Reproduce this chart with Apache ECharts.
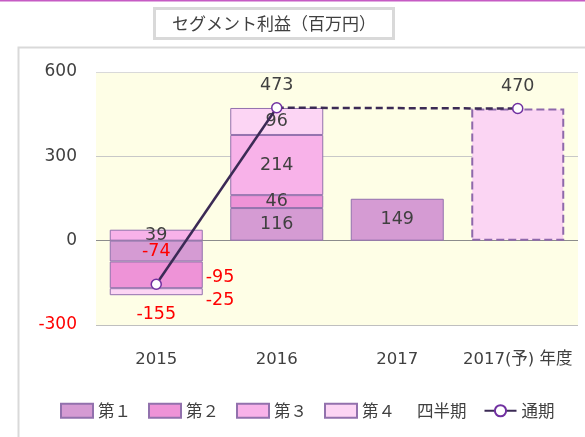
<!DOCTYPE html>
<html>
<head>
<meta charset="utf-8">
<script src="https://cdn.jsdelivr.net/npm/echarts@6/dist/echarts.min.js"></script>
<style>html,body{margin:0;padding:0;background:#fff;}#c{width:585px;height:437px;}</style>
</head>
<body>
<div id="c"></div>
<script>
const categories = ['2015', '2016', '2017', '2017(予) 年度'];
const q1 = [-74, 116, 149, null];
const q2 = [-95, 46, null, null];
const q3 = [39, 214, null, null];
const q4 = [-25, 96, null, null];
const forecast = [null, null, null, 470];
const annualActual = [-155, 473, null, null];
const annualForecast = [null, 473, null, 470];
const yMin = -300, yMax = 600, yStep = 300;
const seriesNames = ['第１', '第２', '第３', '第４'];

const FONT = "'DejaVu Sans', 'Noto Sans CJK JP', sans-serif";
const JFONT = "'Noto Sans CJK JP', 'DejaVu Sans', sans-serif";
const TXT = '#404040';
const RED = '#ff0000';
const colors = ['#d59bd3', '#ee93d7', '#f8b2e9', '#fcd5f4'];
const border = '#9271ad';

// label placement overrides (style only)
const labelOverride = {
  '1-0': { position: 'right', distance: 3, offset: [0, 3] },
  '3-0': { position: 'right', distance: 3, offset: [0, 9] }
};

function barData(arr, si) {
  return arr.map((v, i) => {
    if (v == null) return null;
    const lab = Object.assign({
      show: true, position: 'inside', color: v < 0 ? RED : TXT,
      fontSize: 17.5, fontFamily: FONT
    }, labelOverride[si + '-' + i] || {});
    return { value: v, label: lab };
  });
}

const quarters = [q1, q2, q3, q4];
const series = quarters.map((arr, si) => ({
  name: seriesNames[si],
  type: 'bar',
  stack: 'q',
  barWidth: 93,
  itemStyle: { color: colors[si], borderColor: border, borderWidth: 1 },
  data: barData(arr, si)
}));

series.push({
  name: '予想',
  type: 'bar',
  stack: 'q',
  barWidth: 93,
  itemStyle: { color: '#fbd5f3', borderColor: '#8e68ab', borderWidth: 2, borderType: 'dashed' },
  data: forecast
});

series.push({
  name: '通期',
  type: 'line',
  z: 5,
  symbol: 'circle',
  symbolSize: 10,
  lineStyle: { color: '#3b2a55', width: 2.5 },
  itemStyle: { color: '#ffffff', borderColor: '#7030a0', borderWidth: 1.5 },
  data: annualActual.map((v) => v == null ? null : {
    value: v,
    label: {
      show: true, position: v < 0 ? 'bottom' : 'top', distance: v < 0 ? 16 : 8,
      color: v < 0 ? RED : TXT, fontSize: 17.5, fontFamily: FONT
    }
  })
});

series.push({
  name: '通期予',
  type: 'line',
  z: 4,
  connectNulls: true,
  symbol: 'circle',
  symbolSize: 10,
  lineStyle: { color: '#3b2a55', width: 2.5, type: [7, 4] },
  itemStyle: { color: '#ffffff', borderColor: '#7030a0', borderWidth: 1.5 },
  data: annualForecast.map((v, i) => {
    if (v == null) return null;
    if (i === annualForecast.length - 1) {
      return { value: v, label: { show: true, position: 'top', distance: 8, color: TXT, fontSize: 17.5, fontFamily: FONT } };
    }
    return { value: v, symbol: 'none' };
  })
});

const chart = echarts.init(document.getElementById('c'), null, { renderer: 'canvas' });
chart.setOption({
  animation: false,
  backgroundColor: '#ffffff',
  title: {
    text: 'セグメント利益（百万円）',
    left: 154, top: 8,
    padding: [5, 18, 5, 18],
    borderColor: '#d9d9d9', borderWidth: 3,
    backgroundColor: '#ffffff',
    textStyle: { color: TXT, fontSize: 17, fontWeight: 'normal', fontFamily: JFONT, lineHeight: 21 }
  },
  graphic: [
    { type: 'line', shape: { x1: 0, y1: 0.5, x2: 585, y2: 0.5 }, style: { stroke: '#c65bc4', lineWidth: 2 }, z: 0 },
    { type: 'polyline', shape: { points: [[18.5, 437], [18.5, 47.5], [585, 47.5]] }, style: { stroke: '#d9d9d9', lineWidth: 2, fill: null }, z: 0 }
  ],
  grid: {
    left: 96, right: 7, top: 72, bottom: 112,
    show: true, backgroundColor: '#fefee6', borderWidth: 0
  },
  legend: {
    data: seriesNames.map((n) => ({ name: n, icon: 'rect' })).concat([{ name: '通期' }]),
    bottom: 13, left: 55,
    itemWidth: 32, itemHeight: 14, itemGap: 17,
    textStyle: {
      color: TXT, fontSize: 16.5, fontFamily: JFONT,
      rich: { q: { fontSize: 16.5, fontFamily: JFONT, color: TXT, padding: [0, 0, 0, 22] } }
    },
    formatter: (name) => name === '第４' ? '第４{q|四半期}' : name
  },
  xAxis: {
    type: 'category',
    data: categories,
    axisLine: { show: false, onZero: false },
    axisTick: { show: false },
    axisLabel: { color: TXT, fontSize: 16.5, fontFamily: FONT, margin: 26, interval: 0 }
  },
  yAxis: {
    type: 'value',
    min: yMin, max: yMax, interval: yStep,
    axisLine: { show: false },
    axisTick: { show: false },
    axisLabel: {
      fontSize: 17, fontFamily: FONT, margin: 19,
      color: (v) => Number(v) < 0 ? RED : TXT
    },
    splitLine: { lineStyle: { color: ['#bfbfbf', '#8c8c8c', '#c8c8c8', '#d9d9d9'], width: 1 } }
  },
  series: series
});
</script>
</body>
</html>
